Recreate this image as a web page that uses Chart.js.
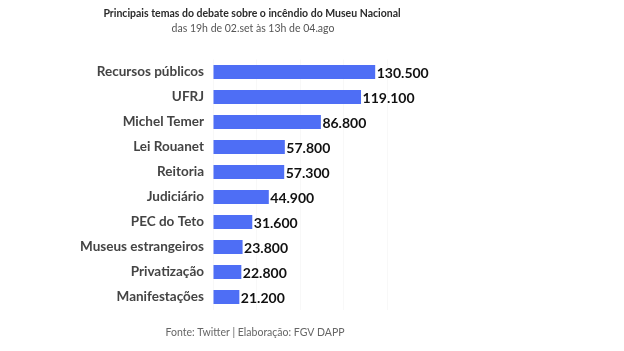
<!DOCTYPE html>
<html lang="pt-BR">
  <head>
    <meta charset="UTF-8">
    <title>Museu Nacional</title>
    <script src="https://cdn.jsdelivr.net/npm/chart.js"></script>
    <style>
      html, body { margin: 0; padding: 0; background: #fff; }
      #wrap { width: 624px; height: 351px; position: relative; }
    </style>
  </head>
  <body>
    <div id="wrap"><canvas id="chart" width="624" height="351"></canvas></div>
    <script>
      const titleText = "Principais temas do debate sobre o incêndio do Museu Nacional";
      const subtitleText = "das 19h de 02.set às 13h de 04.ago";
      const footerText = "Fonte: Twitter | Elaboração: FGV DAPP";

      const categories = [
        "Recursos públicos", "UFRJ", "Michel Temer", "Lei Rouanet", "Reitoria",
        "Judiciário", "PEC do Teto", "Museus estrangeiros", "Privatização", "Manifestações"
      ];
      const mentions = [130500, 119100, 86800, 57800, 57300, 44900, 31600, 23800, 22800, 21200];

      function fmt(n) {
        return String(n).replace(/\B(?=(\d{3})+(?!\d))/g, ".");
      }

      const textPlugin = {
        id: "texts",
        afterDraw(chart) {
          const ctx = chart.ctx;
          ctx.save();
          ctx.textBaseline = "middle";
          ctx.textAlign = "center";
          ctx.fillStyle = "#2b2b2b";
          ctx.font = "bold 10.5px Lato";
          ctx.fillText(titleText, 252, 14);
          ctx.fillStyle = "#555";
          ctx.font = "10.5px Lato";
          ctx.fillText(subtitleText, 253, 29);
          ctx.fillStyle = "#666";
          ctx.font = "10.5px Lato";
          ctx.fillText(footerText, 255, 333);

          // value labels
          const meta = chart.getDatasetMeta(0);
          ctx.textAlign = "left";
          ctx.fillStyle = "#111";
          ctx.font = "bold 14px Lato";
          meta.data.forEach((bar, i) => {
            ctx.fillText(fmt(mentions[i]), bar.x + 1.5, bar.y + 1);
          });
          ctx.restore();
        }
      };

      new Chart(document.getElementById("chart"), {
        type: "bar",
        data: {
          labels: categories,
          datasets: [{
            data: mentions,
            backgroundColor: "#4e6ef5",
            borderWidth: 0,
            barPercentage: 0.56,
            categoryPercentage: 1.0
          }]
        },
        options: {
          indexAxis: "y",
          responsive: false,
          animation: false,
          layout: { padding: { left: 0, right: 237, top: 59.5, bottom: 41.5 } },
          plugins: {
            legend: { display: false },
            tooltip: { enabled: false }
          },
          scales: {
            x: {
              min: 0,
              max: 140000,
              ticks: { stepSize: 35000, display: false },
              grid: { color: "#f8f8f8", drawTicks: false },
              border: { display: false }
            },
            y: {
              afterFit(scale) { scale.width = 213; },
              grid: { display: false, drawTicks: false },
              border: { display: false },
              ticks: {
                color: "#444",
                padding: 9,
                font: { family: "Lato", size: 13.5, weight: "bold" }
              }
            }
          }
        },
        plugins: [textPlugin]
      });
    </script>
  </body>
</html>
